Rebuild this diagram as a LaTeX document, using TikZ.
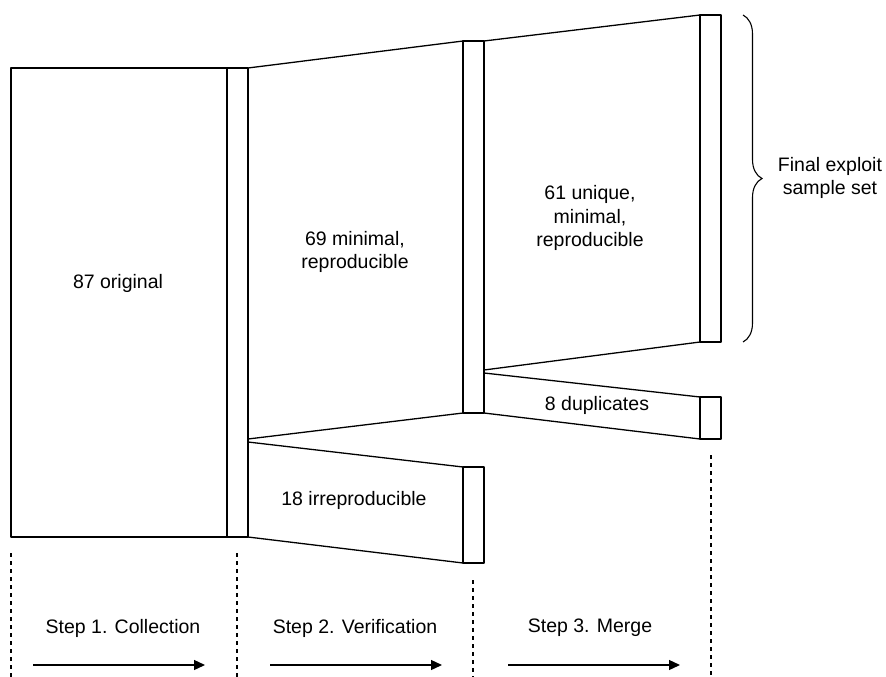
\documentclass[tikz,border=0pt]{standalone}
\usepackage{fontspec}
\setmainfont{Liberation Sans}
\usetikzlibrary{arrows.meta,decorations.pathreplacing}
\begin{document}
\begin{tikzpicture}[x=1pt,y=-1pt,
		flow/.style={line width=1.3pt,line join=round},
		guide/.style={line width=1.1pt,dash pattern=on 4pt off 4pt},
		stage/.style={line width=1.3pt,-{Triangle[length=11pt,width=10pt]}},
		lbl/.style={font=\fontsize{19.5}{23.5}\selectfont,align=center}]
			\useasboundingbox (0,0) rectangle (886,677);
			\coordinate (T0) at (11,68);
			\coordinate (B0) at (227,537);
			\coordinate (T1) at (227,68);
			\coordinate (B1) at (248,537);
			\coordinate (T2) at (463,41);
			\coordinate (B2) at (484,413);
			\coordinate (T3) at (700,15);
			\coordinate (B3) at (721,342);
			\coordinate (TI) at (463,467);
			\coordinate (BI) at (484,563);
			\coordinate (TD) at (700,397);
			\coordinate (BD) at (721,439);
			\draw[flow] (T0) rectangle (B0);
			\draw[flow] (T1) rectangle (B1);
			\draw[flow] (T2) rectangle (B2);
			\draw[flow] (T3) rectangle (B3);
			\draw[flow] (TI) rectangle (BI);
			\draw[flow] (TD) rectangle (BD);
			\draw[flow] (B1|-T1) to (T2);
			\draw[flow] (248,439) to (463,413);
			\draw[flow] (248,442) to (TI);
			\draw[flow] (B1) to (TI|-BI);
			\draw[flow] (B2|-T2) to (T3);
			\draw[flow] (484,370) to (T3|-B3);
			\draw[flow] (484,373) to (TD);
			\draw[flow] (B2) to (TD|-BD);
			\draw[guide] (11,553) to (11,677);
			\draw[guide] (237,553) to (237,677);
			\draw[guide] (473,580) to (473,677);
			\draw[guide] (711,455) to (711,677);
			\draw[stage] (33,665) to (205,665);
			\draw[stage] (270,665) to (442,665);
			\draw[stage] (508,665) to (680,665);
			\draw[line width=1.1pt,decorate,decoration={brace,amplitude=19pt}] (743,15) to (743,342);
			\node[lbl] (orig) at (118,283) {87 original};
			\node[lbl] (verif) at (355,252) {69 minimal,\\reproducible};
			\node[lbl] (irrep) at (354,500) {18 irreproducible};
			\node[lbl] (uniq) at (590,218) {61 unique,\\minimal,\\reproducible};
			\node[lbl] (dupl) at (597,405) {8 duplicates};
			\node[lbl] (final) at (830,178) {Final exploit\\sample set};
			\node[lbl] (col) at (123,628) {Step 1. Collection};
			\node[lbl] (ver) at (355,628) {Step 2. Verification};
			\node[lbl] (mrg) at (590,628) {Step 3. Merge};
\end{tikzpicture}
\end{document}
